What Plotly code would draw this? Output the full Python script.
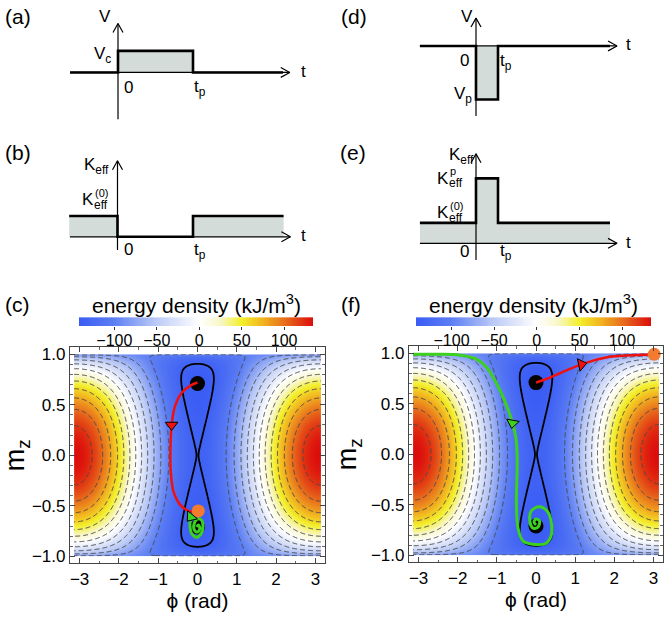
import numpy as np
import plotly.graph_objects as go

W, H = 664, 619
FONT = "Liberation Sans, Arial, sans-serif"
FILL = "#d4dcda"

# ---- pulse schematics, time in units of t_p ----
t_a = [-0.64, 0, 0, 1, 1, 2.2]
v_a = [0, 0, 1, 1, 0, 0]          # V / V_c
t_b = [-0.64, 0, 0, 1, 1, 2.2]
k_b = [1, 1, 0, 0, 1, 1]          # K_eff / K_eff^(0)
t_d = [-2.55, 0, 0, 1, 1, 6.09]
v_d = [0, 0, -1, -1, 0, 0]        # V / |V_p|
t_e = [-2.55, 0, 0, 1, 1, 6.09]
k_e = [1, 1, 3.18, 3.18, 1, 1]    # K_eff / K_eff^(0)

# ---- energy landscape (kJ/m^3) ----
K_EFF = 94.0
ZEEMAN = 134.0
E_MIN, E_MAX = -141.7, 134.0
CB_TICKS = [-100, -50, 0, 50, 100]
PHI_TICKS = [-3, -2, -1, 0, 1, 2, 3]
MZ_TICKS = [-1.0, -0.5, 0.0, 0.5, 1.0]

# equilibrium points
eq_phi = [0.0, 0.0]
eq_mz = [0.71, -0.71]

# trajectories for (c)
c_red_phi = [0.0, -0.18, -0.40, -0.57, -0.65, -0.68, -0.69, -0.68, -0.61, -0.44, -0.23, -0.02]
c_red_mz = [0.72, 0.69, 0.62, 0.49, 0.33, 0.17, 0.0, -0.16, -0.36, -0.49, -0.55, -0.56]
c_green_phi = [0.02, -0.08, -0.17, -0.19, -0.14, -0.02, 0.10, 0.14, 0.10, 0.0, -0.08, -0.08, 0.0, 0.06, 0.02, -0.02]
c_green_mz = [-0.55, -0.58, -0.62, -0.70, -0.78, -0.81, -0.77, -0.70, -0.64, -0.63, -0.67, -0.74, -0.76, -0.72, -0.69, -0.71]
c_switch = (0.02, -0.55)
c_red_arrow = (-0.66, 0.30)
c_green_arrow = (-0.17, -0.61)

# trajectories for (f)
f_red_phi = [0.0, 0.3, 0.6, 0.9, 1.16, 1.4, 1.7, 2.0, 2.4, 2.8, 3.0]
f_red_mz = [0.71, 0.75, 0.80, 0.85, 0.89, 0.92, 0.95, 0.97, 0.98, 0.985, 0.99]
f_green_phi = [-3.14, -2.5, -1.93, -1.51, -1.26, -1.05, -0.88, -0.71, -0.60, -0.51, -0.48,
               -0.50, -0.46, -0.33, -0.08, 0.26, 0.39, 0.39, 0.30, 0.09, -0.12, -0.16,
               -0.08, 0.05, 0.09, 0.0, -0.05, 0.0]
f_green_mz = [0.99, 0.99, 0.98, 0.94, 0.86, 0.73, 0.60, 0.44, 0.31, 0.15, -0.06,
              -0.48, -0.73, -0.86, -0.89, -0.88, -0.80, -0.67, -0.57, -0.52, -0.56, -0.65,
              -0.73, -0.72, -0.66, -0.64, -0.67, -0.70]
f_switch = (3.02, 0.99)
f_red_arrow = (1.16, 0.89)
f_green_arrow = (-0.60, 0.31)

COLORSCALE = [[0.0, "#3a5cf4"], [0.149, "#5c7ef3"], [0.331, "#bccbf6"], [0.513, "#ffffff"],
              [0.604, "#f9f7c8"], [0.695, "#f3ef2a"], [0.785, "#f2b420"], [0.876, "#e8701c"],
              [1.0, "#dc0c0c"]]


def px_domain(left, right, top, bottom):
    return [left / W, right / W], [1 - bottom / H, 1 - top / H]


def paper(px, py):
    return px / W, 1 - py / H


# pixel geometry of the schematic panels: origin, pixels per unit, box, axis extents
SCHEM = {
    "a": dict(n=1, x0=118, sx=75, y0=71, sy=21.7, box=(60, 320, 10, 128), h=(-0.64, 2.29), v=(-2.17, 2.27)),
    "b": dict(n=2, x0=117.5, sx=75.5, y0=236.7, sy=21, box=(60, 320, 140, 262), h=(-0.63, 2.29), v=(-0.63, 3.65)),
    "d": dict(n=3, x0=476, sx=22, y0=44.3, sy=54, box=(405, 650, 10, 128), h=(-2.55, 6.41), v=(-1.31, 0.52)),
    "e": dict(n=4, x0=476, sx=22, y0=243.3, sy=20.6, box=(405, 650, 140, 265), h=(-2.55, 6.41), v=(-0.81, 4.38)),
}

fig = go.Figure()
annotations = []


def label(xa, ya, x, y, text, dx, dy, xanchor, size=17):
    annotations.append(dict(xref=xa, yref=ya, x=x, y=y, text=text, showarrow=False,
                            xanchor=xanchor, yanchor="middle", xshift=dx, yshift=dy, borderpad=0,
                            font=dict(size=size, color="black", family=FONT)))


def keff_stacked(xa, ya, y, sup, dx, dy):
    # K with a stacked superscript / subscript, right part ends near the axis
    label(xa, ya, 0, y, "K", dx, dy, "right", 17)
    label(xa, ya, 0, y, "eff", dx - 2, dy - 5, "left", 12)
    label(xa, ya, 0, y, sup, dx - 1, dy + 7, "left", 11)


def schematic(geo, t, y):
    n = geo["n"]
    xa, ya = f"x{n}", f"y{n}"
    left, right, top, bottom = geo["box"]
    dx, dy = px_domain(left, right, top, bottom)
    fig.layout[f"xaxis{n}"] = dict(domain=dx, visible=False, anchor=ya, fixedrange=True,
                                   range=[(left - geo["x0"]) / geo["sx"], (right - geo["x0"]) / geo["sx"]])
    fig.layout[f"yaxis{n}"] = dict(domain=dy, visible=False, anchor=xa, fixedrange=True,
                                   range=[(geo["y0"] - bottom) / geo["sy"], (geo["y0"] - top) / geo["sy"]])
    fig.add_trace(go.Scatter(x=t, y=y, mode="lines", fill="tozeroy", fillcolor=FILL,
                             line=dict(color="black", width=2.6), xaxis=xa, yaxis=ya,
                             showlegend=False, hoverinfo="skip"))
    h0, h1 = geo["h"]
    v0, v1 = geo["v"]
    ax, ay = 9 / geo["sx"], 5 / geo["sy"]
    bx, by = 5 / geo["sx"], 9 / geo["sy"]
    fig.add_trace(go.Scatter(
        x=[h0, h1, None, h1 - ax, h1, h1 - ax, None, 0, 0, None, -bx, 0, bx],
        y=[0, 0, None, ay, 0, -ay, None, v0, v1, None, v1 - by, v1, v1 - by],
        mode="lines", line=dict(color="black", width=1.2), xaxis=xa, yaxis=ya,
        showlegend=False, hoverinfo="skip", cliponaxis=False))
    return xa, ya


xa, ya = schematic(SCHEM["a"], t_a, v_a)
label(xa, ya, 0, SCHEM["a"]["v"][1], "V", -6, 7, "right")
label(xa, ya, 0, 1, "V<sub>c</sub>", -6, -4, "right")
label(xa, ya, 0, 0, "0", 5, -15, "left")
label(xa, ya, 1, 0, "t<sub>p</sub>", 0, -16, "left")
label(xa, ya, SCHEM["a"]["h"][1], 0, "t", 10, 1, "left")

xa, ya = schematic(SCHEM["b"], t_b, k_b)
label(xa, ya, 0, SCHEM["b"]["v"][1], "K<sub>eff</sub>", -8, -5, "right")
keff_stacked(xa, ya, 1, "(0)", -23, 16)
label(xa, ya, 0, 0, "0", 5, -13, "left")
label(xa, ya, 1, 0, "t<sub>p</sub>", 0, -14, "left")
label(xa, ya, SCHEM["b"]["h"][1], 0, "t", 10, 1, "left")

xa, ya = schematic(SCHEM["d"], t_d, v_d)
label(xa, ya, 0, SCHEM["d"]["v"][1], "V", -2, 2, "right")
label(xa, ya, 0, 0, "0", -6, -15, "right")
label(xa, ya, 1, 0, "t<sub>p</sub>", 1, -16, "left")
label(xa, ya, 0, -1, "V<sub>p</sub>", -3, 5, "right")
label(xa, ya, SCHEM["d"]["h"][1], 0, "t", 8, 1, "left")

xa, ya = schematic(SCHEM["e"], t_e, k_e)
label(xa, ya, 0, SCHEM["e"]["v"][1], "K<sub>eff</sub>", -1, -2, "right")
keff_stacked(xa, ya, 3.18, "p", -26, 0)
keff_stacked(xa, ya, 1, "(0)", -26, 10)
label(xa, ya, 0, 0, "0", -6, -8, "right")
label(xa, ya, 1, 0, "t<sub>p</sub>", 1, -9, "left")
label(xa, ya, SCHEM["e"]["h"][1], 0, "t", 8, 1, "left")

# ---- energy density maps ----
phi = np.linspace(-np.pi, np.pi, 361)
mz = np.linspace(-1, 1, 301)
P, M = np.meshgrid(phi, mz)
energy = -K_EFF * M ** 2 - ZEEMAN * np.sqrt(1 - M ** 2) * np.cos(P)
cb_values = np.linspace(E_MIN, E_MAX, 256)

MAPS = [
    dict(n=5, cbn=7, box=(70, 325, 348, 566), cb=(79, 313),
         red=(c_red_phi, c_red_mz), green=(c_green_phi, c_green_mz), switch=c_switch,
         red_arrow=(c_red_arrow, "triangle-down", 0), green_arrow=(c_green_arrow, "triangle-down", 40)),
    dict(n=6, cbn=8, box=(409, 663, 347, 565), cb=(416, 651),
         red=(f_red_phi, f_red_mz), green=(f_green_phi, f_green_mz), switch=f_switch,
         red_arrow=(f_red_arrow, "triangle-right", -12), green_arrow=(f_green_arrow, "triangle-down", 10)),
]

for mp in MAPS:
    n = mp["n"]
    xa, ya = f"x{n}", f"y{n}"
    dx, dy = px_domain(*mp["box"])
    axis_common = dict(showline=True, linecolor="#444", linewidth=1.2, mirror="allticks",
                       ticks="inside", ticklen=5, tickcolor="#444", showgrid=False, zeroline=False,
                       tickfont=dict(size=17, color="black", family=FONT), fixedrange=True,
                       minor=dict(ticks="inside", ticklen=2.5, tickcolor="#666", nticks=5))
    fig.layout[f"xaxis{n}"] = dict(domain=dx, anchor=ya, range=[-3.245, 3.245], tickvals=PHI_TICKS,
                                   title=dict(text="ϕ (rad)", font=dict(size=21, family=FONT, color="black"),
                                              standoff=2), **axis_common)
    fig.layout[f"yaxis{n}"] = dict(domain=dy, anchor=xa, range=[-1.07, 1.07], tickvals=MZ_TICKS,
                                   tickformat=".1f",
                                   title=dict(text="m<sub>z</sub>", font=dict(size=27, family=FONT, color="black"),
                                              standoff=6), **axis_common)
    fig.add_trace(go.Contour(
        x=phi, y=mz, z=energy, xaxis=xa, yaxis=ya, colorscale=COLORSCALE, zmin=E_MIN, zmax=E_MAX,
        contours=dict(start=-100, end=120, size=20, coloring="heatmap", showlabels=False),
        line=dict(color="#4a4a4a", width=1, dash="5px,3px", smoothing=1),
        showscale=False, hoverinfo="skip"))
    # separatrix through the saddle point at phi = 0, m_z = 0
    fig.add_trace(go.Contour(
        x=phi, y=mz, z=energy, xaxis=xa, yaxis=ya, showscale=False,
        contours=dict(start=-ZEEMAN + 0.05, end=-ZEEMAN + 0.05, size=1, coloring="lines"),
        colorscale=[[0, "black"], [1, "black"]], line=dict(color="black", width=1.8, smoothing=1),
        hoverinfo="skip"))
    fig.add_trace(go.Scatter(x=eq_phi, y=eq_mz, mode="markers", xaxis=xa, yaxis=ya,
                             marker=dict(color="black", size=15), showlegend=False, hoverinfo="skip"))
    fig.add_trace(go.Scatter(x=mp["red"][0], y=mp["red"][1], mode="lines", xaxis=xa, yaxis=ya,
                             line=dict(color="#f01010", width=2.5, shape="spline"),
                             showlegend=False, hoverinfo="skip"))
    fig.add_trace(go.Scatter(x=mp["green"][0], y=mp["green"][1], mode="lines", xaxis=xa, yaxis=ya,
                             line=dict(color="#3cd020", width=3, shape="spline"),
                             showlegend=False, hoverinfo="skip"))
    fig.add_trace(go.Scatter(x=[mp["switch"][0]], y=[mp["switch"][1]], mode="markers", xaxis=xa, yaxis=ya,
                             marker=dict(color="#f47a30", size=13), showlegend=False, hoverinfo="skip",
                             cliponaxis=False))
    for (pt, sym, ang), col in ((mp["red_arrow"], "#f01010"), (mp["green_arrow"], "#3cd020")):
        fig.add_trace(go.Scatter(x=[pt[0]], y=[pt[1]], mode="markers", xaxis=xa, yaxis=ya,
                                 marker=dict(symbol=sym, angle=ang, size=11, color=col,
                                             line=dict(color="black", width=1)),
                                 showlegend=False, hoverinfo="skip"))

    # horizontal colour bar above the map
    cbn = mp["cbn"]
    cxa, cya = f"x{cbn}", f"y{cbn}"
    cb0, cb1 = mp["cb"]
    cdx, cdy = px_domain(cb0, cb1, 317.7, 326.7)
    fig.add_trace(go.Heatmap(x=cb_values, y=[0], z=[cb_values], xaxis=cxa, yaxis=cya,
                             colorscale=COLORSCALE, zmin=E_MIN, zmax=E_MAX, showscale=False,
                             hoverinfo="skip"))
    fig.layout[f"xaxis{cbn}"] = dict(domain=cdx, anchor=cya, range=[E_MIN, E_MAX], tickvals=CB_TICKS,
                                     ticks="outside", ticklen=3, tickcolor="#333", showgrid=False,
                                     zeroline=False, showline=False, fixedrange=True,
                                     ticklabelstandoff=-3,
                                     tickfont=dict(size=16, color="black", family=FONT))
    fig.layout[f"yaxis{cbn}"] = dict(domain=cdy, anchor=cxa, visible=False, fixedrange=True,
                                     range=[-0.5, 0.5])
    tx, ty = paper((cb0 + cb1) / 2, 304)
    annotations.append(dict(xref="paper", yref="paper", x=tx, y=ty,
                            text="energy density (kJ/m<sup>3</sup>)", showarrow=False,
                            xanchor="center", yanchor="middle",
                            font=dict(size=21, color="black", family=FONT)))

# panel letters
for letter, px, py in [("(a)", 18, 15), ("(b)", 18, 152), ("(c)", 17, 305),
                       ("(d)", 354, 15), ("(e)", 353, 152), ("(f)", 351, 305)]:
    lx, ly = paper(px, py)
    annotations.append(dict(xref="paper", yref="paper", x=lx, y=ly, text=letter,
                            showarrow=False, xanchor="center", yanchor="middle",
                            font=dict(size=21, color="black", family=FONT)))

fig.update_layout(
    width=W, height=H,
    margin=dict(l=0, r=0, t=0, b=0),
    paper_bgcolor="white",
    plot_bgcolor="white",
    font=dict(family=FONT, color="black"),
    showlegend=False,
    annotations=annotations,
)

# the default page keeps an 8 px body margin; drop it so the figure fills the window
fig.write_html("out.html", config={"displayModeBar": False},
               post_script="document.body.style.margin = '0px';")
